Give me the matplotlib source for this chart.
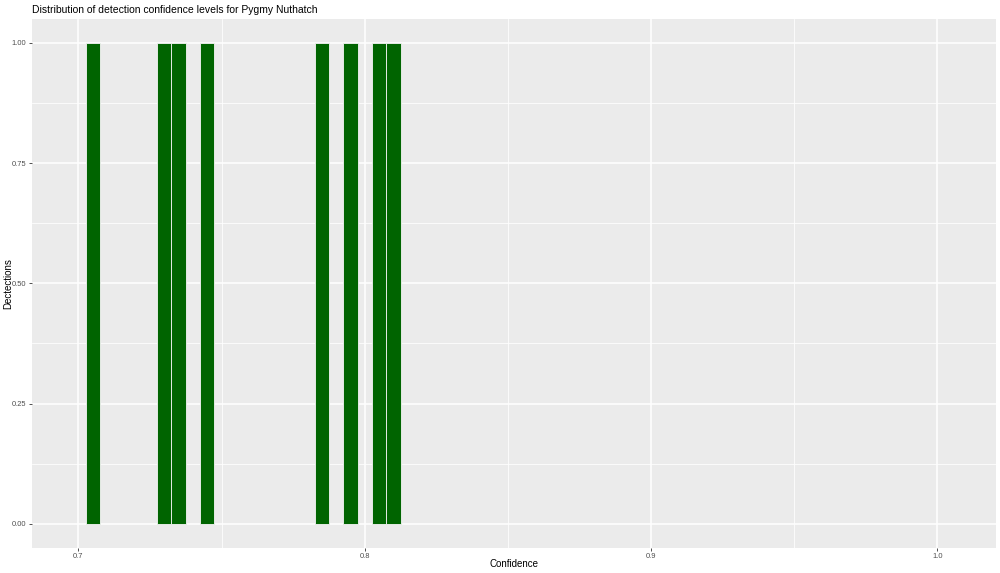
import matplotlib.pyplot as plt
from matplotlib.ticker import MultipleLocator

# histogram bins (centre of each bin) and the detections counted in them
bin_centres = [0.705, 0.730, 0.735, 0.745, 0.785, 0.795, 0.805, 0.810]
detections = [1, 1, 1, 1, 1, 1, 1, 1]
bin_width = 0.005

x_ticks = [0.7, 0.8, 0.9, 1.0]
x_labels = ["0.7", "0.8", "0.9", "1.0"]
y_ticks = [0.0, 0.25, 0.5, 0.75, 1.0]
y_labels = ["0.00", "0.25", "0.50", "0.75", "1.00"]

plt.rcParams['font.family'] = ['Liberation Sans', 'DejaVu Sans']

fig = plt.figure(figsize=(10, 5.73), dpi=100)
ax = fig.add_axes([0.032, 0.044, 0.9636, 0.923])

ax.set_facecolor('#EBEBEB')
ax.bar(bin_centres, detections, width=bin_width, color='#006400',
       edgecolor='#F5F5F5', linewidth=0.6, zorder=3)

ax.set_xlim(0.6838, 1.0203)
ax.set_ylim(-0.05, 1.05)
ax.set_xticks(x_ticks)
ax.set_xticklabels(x_labels)
ax.set_yticks(y_ticks)
ax.set_yticklabels(y_labels)
ax.xaxis.set_minor_locator(MultipleLocator(0.05))
ax.yaxis.set_minor_locator(MultipleLocator(0.125))

ax.grid(which='major', color='white', linewidth=1.1, zorder=0)
ax.grid(which='minor', color='white', linewidth=0.55, zorder=0)
ax.set_axisbelow(True)
for s in ax.spines.values():
    s.set_visible(False)

ax.tick_params(which='major', length=2.5, width=0.6, color='#333333',
               labelsize=5.4, labelcolor='#4D4D4D', pad=1.5)
ax.tick_params(which='minor', length=0)

ax.set_xlabel('Confidence', fontsize=7, va='center')
ax.xaxis.set_label_coords(0.5, -0.0305)
ax.set_ylabel('Dectections', fontsize=7, va='center')
ax.yaxis.set_label_coords(-0.0245, 0.5)
ax.set_title('Distribution of detection confidence levels for Pygmy Nuthatch',
             fontsize=7.5, loc='left', x=0.0, pad=4.5)

fig.savefig('out.png', dpi=100)
